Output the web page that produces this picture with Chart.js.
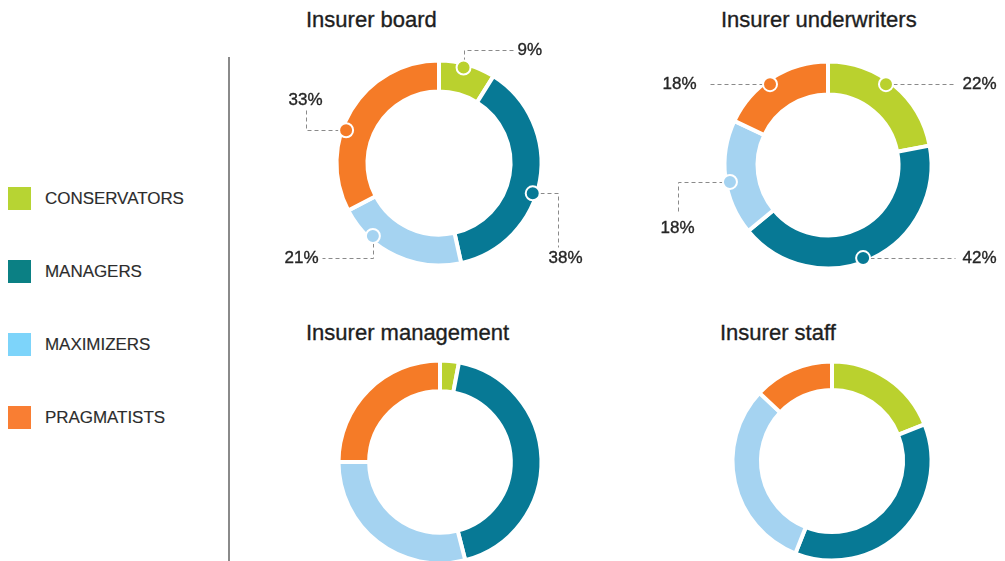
<!DOCTYPE html>
<html><head><meta charset="utf-8">
<script src="https://cdn.jsdelivr.net/npm/chart.js@4.4.1/dist/chart.umd.min.js"></script>
<style>
html,body{margin:0;padding:0;width:1005px;height:561px;overflow:hidden;background:#fff;font-family:"Liberation Sans",Arial,Helvetica,sans-serif;}
.title{position:absolute;font-size:22px;line-height:22px;color:#1e1e1e;white-space:nowrap;-webkit-text-stroke:0.35px #1e1e1e;}
.leg-sw{position:absolute;width:23px;height:23px;left:8px;}
.leg-tx{position:absolute;left:45px;font-size:17px;line-height:17px;color:#2c2c2c;letter-spacing:-0.05px;white-space:nowrap;-webkit-text-stroke:0.15px #2c2c2c;}
.divider{position:absolute;left:228px;top:57px;width:2px;height:504px;background:#8a8a8a;}
canvas{position:absolute;}
</style></head><body>
<script>
// ---- data ----
const categories = ['CONSERVATORS', 'MANAGERS', 'MAXIMIZERS', 'PRAGMATISTS'];
const chartTitles = ['Insurer board', 'Insurer underwriters', 'Insurer management', 'Insurer staff'];
const boardValues = [9, 38, 21, 33];
const underwritersValues = [22, 42, 18, 18];
const managementValues = [3, 43, 29, 25];
const staffValues = [19, 37, 31, 13];
const seriesValues = [boardValues, underwritersValues, managementValues, staffValues];

// ---- styles / layout ----
const ringColors = ['#BAD12E', '#077995', '#A5D3F1', '#F57B27'];
const legendColors = ['#B7D433', '#0B8084', '#7DD4FA', '#F97E33'];
const legendRowsY = [198, 271, 344, 417];
const titlePos = [{x:306, y:9}, {x:721, y:9}, {x:306, y:322}, {x:720, y:322}];
const chartLayout = [
  {cx:439, cy:163, radius:102.5, cutout:'69.8%', callouts:[
    {t:0.45, path:[['v',-113],['h',74]], label:{ox:4, oy:0, align:'left'}},
    {t:0.56, path:[['h',119],['v',84]], label:{ox:7, oy:11, align:'center'}},
    {t:0.73, path:[['v',95],['h',-117]], label:{ox:-4, oy:0, align:'right'}},
    {t:0.40, path:[['h',-133],['v',-53]], label:{ox:-1, oy:-10, align:'center'}}
  ]},
  {cx:828, cy:165, radius:103.5, cutout:'68.1%', callouts:[
    {t:0.45, path:[['h',127]], label:{ox:7, oy:0, align:'left'}},
    {t:0.53, path:[['h',127]], label:{ox:7, oy:0, align:'left'}},
    {t:0.46, path:[['h',-150],['v',47]], label:{ox:-1, oy:16, align:'center'}},
    {t:0.45, path:[['h',-121]], label:{ox:-11, oy:0, align:'right'}}
  ]},
  {cx:440, cy:462, radius:101.5, cutout:'69.8%', callouts:null},
  {cx:832, cy:461, radius:99.5, cutout:'71.4%', callouts:null}
];
const CW = 400, CH = 280;

// ---- static text ----
const body = document.body;
const div = document.createElement('div'); div.className = 'divider'; body.appendChild(div);
categories.forEach((c, i) => {
  const sw = document.createElement('div'); sw.className = 'leg-sw';
  sw.style.top = (legendRowsY[i] - 11.5) + 'px'; sw.style.background = legendColors[i];
  body.appendChild(sw);
  const tx = document.createElement('div'); tx.className = 'leg-tx';
  tx.style.top = (legendRowsY[i] - 8.5) + 'px'; tx.textContent = c;
  body.appendChild(tx);
});
chartTitles.forEach((t, i) => {
  const d = document.createElement('div'); d.className = 'title';
  d.style.left = titlePos[i].x + 'px'; d.style.top = titlePos[i].y + 'px'; d.textContent = t;
  body.appendChild(d);
});

// ---- callout plugin ----
const snap = v => Math.round(v) + 0.5;
const calloutPlugin = {
  id: 'callouts',
  afterDatasetsDraw(chart, args, opts) {
    const items = opts.items; if (!items) return;
    const ctx = chart.ctx;
    const meta = chart.getDatasetMeta(0);
    const values = chart.data.datasets[0].data;
    const colors = chart.data.datasets[0].backgroundColor;
    meta.data.forEach((arc, i) => {
      const c = items[i]; if (!c) return;
      const p = arc.getProps(['x', 'y', 'startAngle', 'endAngle', 'outerRadius'], true);
      const a = p.startAngle + c.t * (p.endAngle - p.startAngle);
      const r = p.outerRadius - 4;
      const px = p.x + Math.cos(a) * r, py = p.y + Math.sin(a) * r;
      let x = snap(px), y = snap(py);
      ctx.save();
      ctx.setLineDash([4, 3]); ctx.strokeStyle = '#8a8a8a'; ctx.lineWidth = 1;
      ctx.beginPath(); ctx.moveTo(x, y);
      c.path.forEach(([d, v]) => { if (d === 'h') x = snap(p.x + v); else y = snap(p.y + v); ctx.lineTo(x, y); });
      ctx.stroke();
      ctx.setLineDash([]);
      ctx.beginPath(); ctx.arc(px, py, 7, 0, Math.PI * 2);
      ctx.fillStyle = colors[i]; ctx.fill();
      ctx.lineWidth = 2; ctx.strokeStyle = '#ffffff'; ctx.stroke();
      ctx.font = '17px "Liberation Sans", Arial, Helvetica, sans-serif';
      ctx.fillStyle = '#262626'; ctx.strokeStyle = '#262626'; ctx.lineWidth = 0.35;
      ctx.textAlign = c.label.align; ctx.textBaseline = 'middle';
      const tx = x + c.label.ox, ty = y + c.label.oy;
      ctx.fillText(values[i] + '%', tx, ty);
      ctx.strokeText(values[i] + '%', tx, ty);
      ctx.restore();
    });
  }
};

// ---- charts ----
seriesValues.forEach((vals, i) => {
  const L = chartLayout[i];
  const cv = document.createElement('canvas');
  cv.width = CW; cv.height = CH;
  cv.style.width = CW + 'px'; cv.style.height = CH + 'px';
  cv.style.left = (L.cx - CW / 2) + 'px'; cv.style.top = (L.cy - CH / 2) + 'px';
  body.appendChild(cv);
  new Chart(cv.getContext('2d'), {
    type: 'doughnut',
    data: {
      labels: categories,
      datasets: [{
        data: vals,
        backgroundColor: ringColors,
        borderColor: '#ffffff',
        borderWidth: 4,
        borderJoinStyle: 'miter',
        hoverOffset: 0
      }]
    },
    options: {
      responsive: false,
      animation: false,
      devicePixelRatio: 1,
      events: [],
      radius: L.radius,
      cutout: L.cutout,
      layout: { padding: 0 },
      plugins: {
        legend: { display: false },
        tooltip: { enabled: false },
        title: { display: false },
        callouts: { items: L.callouts }
      }
    },
    plugins: [calloutPlugin]
  });
});
</script>
</body></html>
